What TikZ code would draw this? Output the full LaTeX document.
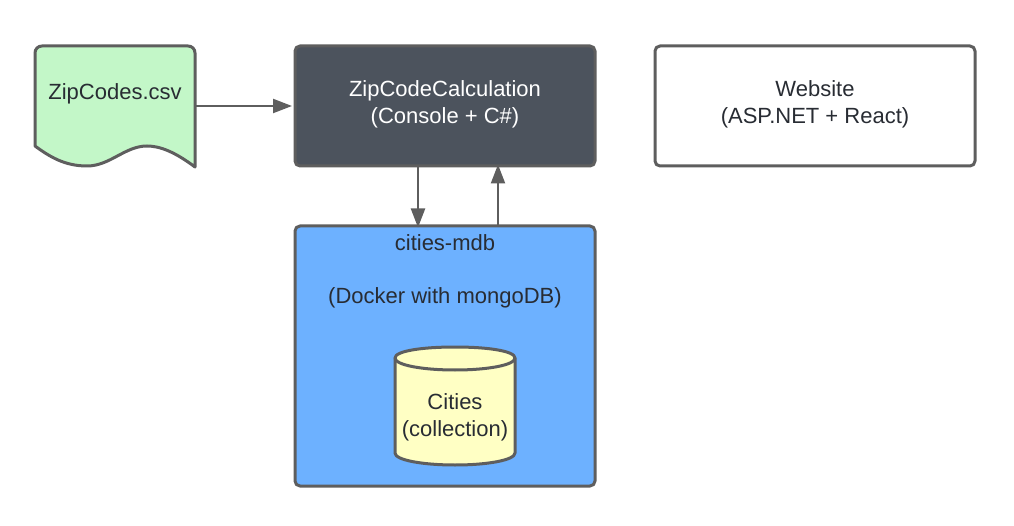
\documentclass[tikz,border=0pt]{standalone}
\usepackage{fontspec}
\setmainfont{Liberation Sans}
\usetikzlibrary{arrows.meta}
\definecolor{edgec}{HTML}{5E5E5E}
\definecolor{inkc}{HTML}{282C33}
\definecolor{darkc}{HTML}{4C535D}
\definecolor{bluec}{HTML}{6DB1FF}
\definecolor{greenc}{HTML}{C3F7C8}
\definecolor{yellowc}{HTML}{FFFFC4}
\tikzset{
  x=1pt,y=-1pt,
  shapeline/.style={draw=edgec,line width=3pt,line join=round},
  boxnode/.style={shapeline,rounded corners=5pt,rectangle,minimum width=300pt,minimum height=120pt,align=center,inner sep=0pt,text=inkc},
  label/.style={text=inkc,align=center,inner sep=0pt,font=\fontsize{22pt}{27pt}\selectfont},
  conn/.style={draw=edgec,line width=2.2pt,-{Triangle[length=19pt,width=14pt]}}
}
\begin{document}
\begin{tikzpicture}
\useasboundingbox (0,0) rectangle (1014,526);
\fill[white] (0,0) rectangle (1014,526);
% document shape
\path[shapeline,fill=greenc] (35,146) -- (35,53)
  .. controls (35,49) and (38,46) .. (42,46) -- (188,46)
  .. controls (192,46) and (195,49) .. (195,53) -- (195,167)
  .. controls (175,152) and (160,146) .. (147,146)
  .. controls (125,146) and (110,166) .. (87,166)
  .. controls (65,166) and (50,157) .. (35,146) -- cycle;
\node[label] (doc) at (115,93.5) {ZipCodes.csv};
\coordinate (docout) at (196,106);
% boxes
\node[boxnode,fill=darkc] (calc) at (445,106) {};
\node[label,text=white] (calctext) at (445,104.5) {ZipCodeCalculation\\(Console + C\#)};
\node[boxnode,fill=white,minimum width=320pt] (web) at (815,106) {};
\node[label] (webtext) at (815,104) {Website\\(ASP.NET + React)};
\node[boxnode,fill=bluec,minimum height=260pt] (mdb) at (445,356) {};
\node[label] (mdbtitle) at (445,243) {cities-mdb};
\node[label] (mdbsub) at (445,297.5) {(Docker with mongoDB)};
% cylinder
\path[shapeline,fill=yellowc] (395,358) -- (395,453)
  .. controls (395,460) and (422,465) .. (455,465)
  .. controls (488,465) and (515,460) .. (515,453) -- (515,358)
  .. controls (515,351) and (488,347) .. (455,347)
  .. controls (422,347) and (395,351) .. (395,358) -- cycle;
\path[shapeline] (395,358)
  .. controls (395,365) and (422,370) .. (455,370)
  .. controls (488,370) and (515,365) .. (515,358);
\node[label] (cities) at (455,417) {Cities\\(collection)};
% connectors
\coordinate (calcin) at (calc.west |- docout);
\coordinate (calcdown) at (418,166);
\coordinate (mdbtop) at (418,226);
\coordinate (mdbup) at (498,226);
\coordinate (calcup) at (498,166);
\draw[conn] (docout) -- ([xshift=-1.5pt]calcin);
\draw[conn] (calcdown) -- ([yshift=-1.5pt]mdbtop);
\draw[conn] (mdbup) -- ([yshift=1.5pt]calcup);
\end{tikzpicture}
\end{document}
